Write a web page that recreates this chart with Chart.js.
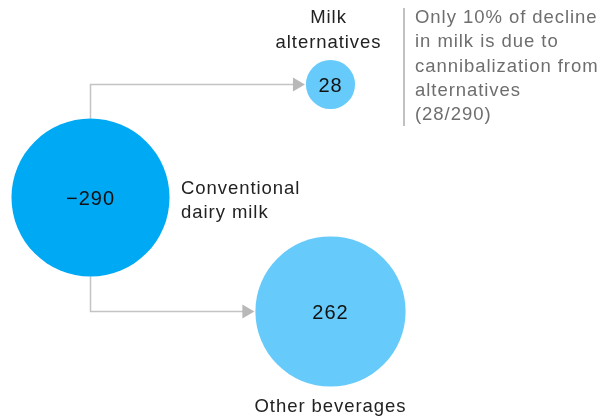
<!DOCTYPE html>
<html>
<head>
<meta charset="utf-8">
<script src="https://cdn.jsdelivr.net/npm/chart.js@4/dist/chart.umd.min.js"></script>
<style>
html,body{margin:0;padding:0;background:#fff;}
#wrap{width:598px;height:419px;position:relative;}
</style>
</head>
<body>
<div id="wrap"><canvas id="c"></canvas></div>
<script>
// ---- data ----
const categories = ['Conventional dairy milk', 'Milk alternatives', 'Other beverages'];
const values = [-290, 28, 262];
const valueLabels = ['\u2212290', '28', '262'];
const nameLines = [['Conventional', 'dairy milk'], ['Milk', 'alternatives'], ['Other beverages']];
const noteLines = ['Only 10% of decline', 'in milk is due to', 'cannibalization from', 'alternatives', '(28/290)'];

// ---- layout (pixel-space scale coordinates) ----
const layout = [
  {x: 90.5, y: 197.5},
  {x: 330.5, y: 84.5},
  {x: 330.5, y: 311.5}
];
const radiusPerSqrt = 4.64;
const colors = ['#00A9F4', '#66CAFA', '#66CAFA'];
const FONT = '"Liberation Sans", Arial, Helvetica, sans-serif';

const points = categories.map((c, i) => ({
  x: layout[i].x, y: layout[i].y, r: radiusPerSqrt * Math.sqrt(Math.abs(values[i]))
}));

// keep the plot area equal to the whole canvas (no auto padding for bubble radii)
Chart.BubbleController.prototype.getMaxOverflow = function () { return 0; };

function setText(ctx, color, align, size, spacing) {
  ctx.font = (size || 18.5) + 'px ' + FONT;
  ctx.fillStyle = color;
  ctx.textAlign = align;
  ctx.textBaseline = 'alphabetic';
  try { ctx.letterSpacing = (spacing == null ? 0.95 : spacing) + 'px'; } catch (e) {}
}

const overlay = {
  id: 'overlay',
  beforeDatasetsDraw(chart) {
    const ctx = chart.ctx, xs = chart.scales.x, ys = chart.scales.y;
    const px = i => xs.getPixelForValue(points[i].x);
    const py = i => ys.getPixelForValue(points[i].y);
    const r = i => points[i].r;
    ctx.save();
    ctx.strokeStyle = '#C4C4C4';
    ctx.fillStyle = '#B8B8B8';
    ctx.lineWidth = 1.5;
    function connector(from, to, up) {
      const x0 = px(from), y0 = py(from) + (up ? -r(from) : r(from));
      const y1 = py(to), tipX = px(to) - r(to) - 1;
      ctx.beginPath();
      ctx.moveTo(x0, y0);
      ctx.lineTo(x0, y1);
      ctx.lineTo(tipX - 10, y1);
      ctx.stroke();
      ctx.beginPath();
      ctx.moveTo(tipX, y1);
      ctx.lineTo(tipX - 12, y1 - 7);
      ctx.lineTo(tipX - 12, y1 + 7);
      ctx.closePath();
      ctx.fill();
    }
    connector(0, 1, true);
    connector(0, 2, false);
    ctx.restore();
  },
  afterDatasetsDraw(chart) {
    const ctx = chart.ctx, xs = chart.scales.x, ys = chart.scales.y;
    const px = i => xs.getPixelForValue(points[i].x);
    const py = i => ys.getPixelForValue(points[i].y);
    ctx.save();
    // values inside bubbles
    setText(ctx, '#111', 'center', 20, 1);
    valueLabels.forEach((t, i) => ctx.fillText(t, px(i), py(i) + 7.5));
    // names
    setText(ctx, '#222', 'left');
    nameLines[0].forEach((t, k) => ctx.fillText(t, 181, 194 + k * 23.5));
    setText(ctx, '#222', 'center');
    nameLines[1].forEach((t, k) => ctx.fillText(t, px(1) - 2, 23 + k * 24.5));
    nameLines[2].forEach((t, k) => ctx.fillText(t, px(2), 412 + k * 24));
    // note
    ctx.strokeStyle = '#ADADAD';
    ctx.lineWidth = 1.5;
    ctx.beginPath();
    ctx.moveTo(404, 8);
    ctx.lineTo(404, 126);
    ctx.stroke();
    setText(ctx, '#6E6E6E', 'left');
    noteLines.forEach((t, k) => ctx.fillText(t, 415, 23 + k * 24.3));
    ctx.restore();
  }
};

new Chart(document.getElementById('c'), {
  type: 'bubble',
  data: {
    labels: categories,
    datasets: [{
      data: points,
      backgroundColor: colors,
      borderWidth: 0,
      hoverBorderWidth: 0,
      clip: false
    }]
  },
  options: {
    responsive: true,
    maintainAspectRatio: false,
    animation: false,
    events: [],
    layout: {padding: 0},
    plugins: {legend: {display: false}, tooltip: {enabled: false}},
    scales: {
      x: {type: 'linear', min: 0, max: 598, display: false},
      y: {type: 'linear', min: 0, max: 419, reverse: true, display: false}
    }
  },
  plugins: [overlay]
});
</script>
</body>
</html>
